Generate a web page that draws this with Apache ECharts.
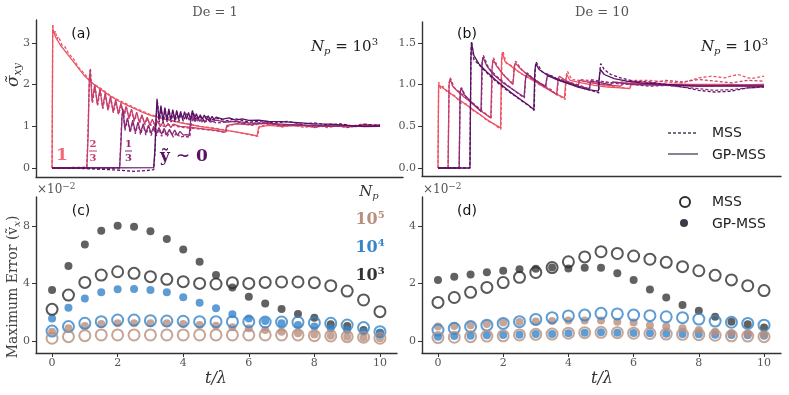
<!DOCTYPE html>
<html>
<head>
<meta charset="utf-8">
<script src="https://cdn.jsdelivr.net/npm/echarts@6/dist/echarts.min.js"></script>
<style>
  html, body { margin: 0; background: #fff; }
  #chart { width: 789px; height: 395px; }
</style>
</head>
<body>
<div id="chart"></div>
<script>
// ---------- (a) De = 1, stress at ỹ = 1, 2/3, 1/3, 0 ----------
const aGp1 = [[0,0],[0.02,3.35],[0.1,3.15],[0.25,2.95],[0.5,2.7],[0.75,2.45],[1.0,2.2],[1.25,2.02],[1.5,1.88],[1.75,1.74],[2.0,1.62],[2.25,1.52],[2.5,1.43],[2.75,1.34],[3.0,1.26],[3.5,1.16],[4.0,1.07],[4.5,1.0],[5.0,0.94],[5.5,0.88],[6.0,0.81],[6.25,0.77],[6.3,0.98],[6.6,1.02],[7.0,1.0],[7.5,1.02],[8.0,0.99],[8.5,1.01],[9.0,1.0],[9.5,1.02],[10.0,1.02]]
const aMss1 = [[0,0],[0.02,3.45],[0.06,3.2],[0.1,3.28],[0.15,3.1],[0.2,3.15],[0.3,2.95],[0.4,2.9],[0.5,2.75],[0.65,2.62],[0.8,2.42],[1.0,2.25],[1.2,2.05],[1.5,1.9],[1.8,1.72],[2.0,1.64],[2.5,1.45],[3.0,1.28],[3.5,1.17],[4.0,1.08],[4.5,1.0],[5.0,0.95],[5.5,0.88],[6.0,0.8],[6.27,0.76],[6.32,1.0],[6.6,1.05],[7.0,0.98],[7.3,1.04],[7.7,0.97],[8.0,1.03],[8.4,0.97],[8.8,1.04],[9.2,0.98],[9.6,1.05],[10.0,1.0]]
const aGp2 = [[0,0],[1.06,0],[1.1,0.8],[1.13,2.0],[1.16,2.35],[1.22,1.6],[1.3,2.0],[1.38,1.52],[1.46,1.9],[1.54,1.45],[1.62,1.8],[1.7,1.4],[1.78,1.72],[1.86,1.35],[1.94,1.64],[2.02,1.3],[2.1,1.56],[2.18,1.25],[2.26,1.48],[2.34,1.2],[2.42,1.41],[2.5,1.14],[2.58,1.34],[2.66,1.1],[2.74,1.28],[2.82,1.06],[2.9,1.22],[2.98,1.03],[3.06,1.17],[3.14,1.0],[3.22,1.13],[3.3,0.99],[3.38,1.1],[3.46,0.98],[3.54,1.07],[3.62,0.97],[3.7,1.05],[3.9,1.0],[4.2,0.98],[4.6,0.94],[5.0,0.9],[5.28,0.86],[5.33,1.02],[5.6,1.06],[6.0,1.04],[6.5,1.07],[7.0,1.03],[7.5,1.01],[8.0,1.03],[8.5,0.99],[9.0,1.02],[9.5,1.0],[10.0,1.04]]
const aMss2 = [[0,0],[1.06,0.02],[1.1,1.0],[1.14,2.2],[1.17,2.4],[1.23,1.55],[1.31,1.95],[1.39,1.5],[1.47,1.88],[1.55,1.42],[1.63,1.78],[1.71,1.38],[1.79,1.7],[1.87,1.32],[1.95,1.6],[2.03,1.28],[2.11,1.52],[2.19,1.22],[2.27,1.45],[2.35,1.18],[2.43,1.38],[2.51,1.12],[2.59,1.3],[2.67,1.08],[2.75,1.25],[2.83,1.04],[2.91,1.19],[3.0,1.02],[3.2,1.1],[3.4,1.0],[3.6,1.04],[3.9,0.98],[4.3,0.95],[4.7,0.92],[5.0,0.89],[5.3,0.85],[5.35,1.0],[5.7,1.08],[6.1,1.02],[6.6,1.1],[7.0,1.0],[7.5,1.05],[8.0,0.97],[8.5,1.05],[9.0,0.98],[9.5,1.06],[10.0,1.0]]
const aGp3 = [[0,0],[2.06,0.01],[2.1,0.6],[2.13,1.2],[2.16,1.42],[2.22,0.95],[2.3,1.2],[2.38,0.88],[2.46,1.15],[2.54,0.86],[2.62,1.1],[2.7,0.85],[2.78,1.06],[2.86,0.84],[2.94,1.03],[3.02,0.83],[3.1,1.0],[3.18,0.82],[3.26,0.97],[3.34,0.81],[3.42,0.95],[3.5,0.8],[3.58,0.93],[3.66,0.79],[3.74,0.91],[3.82,0.78],[3.9,0.88],[4.0,0.79],[4.1,0.8],[4.18,0.78],[4.22,1.1],[4.26,1.25],[4.34,1.12],[4.42,1.22],[4.5,1.12],[4.58,1.2],[4.66,1.11],[4.74,1.18],[4.82,1.1],[5.0,1.15],[5.3,1.1],[5.6,1.12],[6.0,1.08],[6.5,1.07],[7.0,1.05],[7.5,1.03],[8.0,1.02],[8.5,1.0],[9.0,1.02],[9.5,0.99],[10.0,1.0]]
const aMss3 = [[0,0],[1.5,-0.02],[2.06,0.0],[2.1,0.7],[2.13,1.25],[2.16,1.38],[2.22,0.9],[2.3,1.15],[2.38,0.85],[2.46,1.1],[2.54,0.82],[2.62,1.06],[2.7,0.8],[2.78,1.02],[2.86,0.79],[2.94,0.99],[3.02,0.78],[3.1,0.96],[3.18,0.77],[3.26,0.93],[3.34,0.76],[3.42,0.9],[3.5,0.75],[3.6,0.88],[3.7,0.74],[3.8,0.85],[3.9,0.74],[4.05,0.76],[4.2,0.74],[4.24,1.05],[4.3,1.2],[4.4,1.1],[4.5,1.18],[4.6,1.08],[4.8,1.15],[5.0,1.08],[5.5,1.12],[6.0,1.05],[6.5,1.1],[7.0,1.02],[7.5,1.05],[8.0,0.98],[8.5,1.03],[9.0,0.97],[9.5,1.04],[10.0,1.0]]
const aGp4 = [[0,0],[3.1,0.01],[3.14,0.5],[3.17,1.2],[3.2,1.66],[3.26,1.15],[3.32,1.5],[3.38,1.12],[3.44,1.45],[3.5,1.15],[3.56,1.42],[3.62,1.15],[3.68,1.4],[3.74,1.15],[3.8,1.38],[3.86,1.16],[3.92,1.36],[3.98,1.16],[4.04,1.35],[4.1,1.17],[4.16,1.33],[4.22,1.17],[4.28,1.38],[4.34,1.18],[4.4,1.3],[4.46,1.17],[4.52,1.28],[4.58,1.17],[4.64,1.27],[4.7,1.17],[4.76,1.25],[4.82,1.16],[4.88,1.24],[4.94,1.16],[5.0,1.22],[5.2,1.17],[5.4,1.2],[5.6,1.15],[5.8,1.18],[6.0,1.14],[6.3,1.15],[6.6,1.12],[7.0,1.11],[7.5,1.09],[8.0,1.06],[8.5,1.05],[9.0,1.02],[9.5,1.0],[10.0,1.0]]
const aMss4 = [[0,0],[1.0,-0.01],[2.0,-0.05],[2.5,-0.08],[2.9,-0.06],[3.1,-0.04],[3.14,0.4],[3.18,1.3],[3.21,1.6],[3.27,1.1],[3.33,1.45],[3.39,1.08],[3.45,1.4],[3.51,1.1],[3.57,1.38],[3.63,1.1],[3.69,1.35],[3.75,1.1],[3.81,1.33],[3.87,1.12],[3.93,1.31],[4.0,1.12],[4.1,1.3],[4.2,1.12],[4.3,1.34],[4.4,1.13],[4.5,1.26],[4.6,1.12],[4.7,1.24],[4.8,1.13],[5.0,1.2],[5.3,1.13],[5.6,1.18],[6.0,1.1],[6.4,1.13],[6.8,1.08],[7.2,1.12],[7.6,1.05],[8.0,1.08],[8.4,1.03],[8.8,1.06],[9.2,1.0],[9.6,1.04],[10.0,1.02]]

// ---------- (b) De = 10 ----------
const bGp1 = [[0,0],[0.02,1.0],[0.1,0.97],[0.3,0.92],[0.5,0.86],[0.75,0.79],[1.0,0.72],[1.25,0.65],[1.5,0.58],[1.75,0.52],[1.92,0.48],[1.95,1.3],[1.98,1.38],[2.05,1.28],[2.3,1.2],[2.6,1.12],[3.0,1.03],[3.3,0.96],[3.6,0.89],[3.88,0.84],[3.92,1.05],[3.95,1.12],[4.05,1.05],[4.4,1.02],[4.8,0.99],[5.2,0.97],[5.6,0.96],[5.88,0.95],[5.92,1.02],[6.3,1.01],[7.0,1.0],[8.0,1.0],[9.0,1.0],[10.0,0.99]]
const bMss1 = [[0,0],[0.02,1.03],[0.08,0.95],[0.15,0.98],[0.3,0.9],[0.5,0.87],[0.7,0.78],[0.9,0.76],[1.1,0.68],[1.3,0.64],[1.5,0.57],[1.7,0.53],[1.93,0.46],[1.96,1.35],[1.99,1.4],[2.1,1.25],[2.3,1.22],[2.5,1.14],[2.8,1.08],[3.1,1.0],[3.4,0.94],[3.7,0.87],[3.9,0.82],[3.93,1.1],[3.97,1.16],[4.1,1.06],[4.5,1.04],[5.0,1.0],[5.5,0.97],[5.9,0.95],[5.94,1.05],[6.5,1.05],[7.0,1.03],[7.5,1.02],[8.0,1.08],[8.4,1.1],[8.8,1.08],[9.2,1.12],[9.6,1.07],[10.0,1.1]]
const bGp2 = [[0,0],[0.31,0],[0.34,1.0],[0.37,1.07],[0.45,0.98],[0.6,0.92],[0.8,0.85],[1.0,0.79],[1.2,0.72],[1.4,0.66],[1.62,0.6],[1.66,1.2],[1.69,1.3],[1.8,1.22],[2.0,1.12],[2.2,1.04],[2.3,1.0],[2.34,1.2],[2.37,1.26],[2.5,1.2],[2.8,1.1],[3.1,1.02],[3.4,0.94],[3.64,0.88],[3.68,1.05],[3.72,1.1],[3.9,1.05],[4.3,0.98],[4.34,1.05],[4.6,1.03],[5.0,1.0],[5.6,0.98],[5.7,1.02],[6.5,1.0],[7.5,1.0],[8.5,0.99],[10.0,1.0]]
const bMss2 = [[0,0],[0.31,0],[0.34,1.02],[0.38,1.08],[0.5,0.96],[0.7,0.9],[0.9,0.82],[1.1,0.77],[1.3,0.7],[1.5,0.64],[1.63,0.59],[1.67,1.22],[1.7,1.32],[1.85,1.2],[2.05,1.1],[2.3,1.01],[2.34,1.22],[2.38,1.28],[2.6,1.16],[2.9,1.08],[3.2,1.0],[3.5,0.93],[3.65,0.87],[3.69,1.07],[3.9,1.04],[4.3,0.99],[4.35,1.06],[4.8,1.04],[5.3,1.02],[6.0,1.04],[6.5,1.02],[7.0,1.05],[7.5,1.03],[8.0,1.06],[8.5,1.04],[9.0,1.02],[9.5,1.05],[10.0,1.04]]
const bGp3 = [[0,0],[0.65,0],[0.68,0.9],[0.71,0.96],[0.8,0.88],[1.0,0.8],[1.15,0.74],[1.32,0.68],[1.35,1.25],[1.38,1.33],[1.5,1.22],[1.7,1.12],[2.0,1.02],[2.3,0.94],[2.64,0.85],[2.68,1.05],[2.72,1.13],[2.9,1.07],[3.1,1.02],[3.3,0.98],[3.34,1.08],[3.38,1.12],[3.6,1.07],[4.0,1.02],[4.3,0.98],[4.64,0.95],[4.68,1.04],[5.0,1.02],[5.3,1.0],[5.36,1.03],[6.0,1.0],[7.0,0.99],[8.0,0.98],[9.0,0.99],[10.0,0.98]]
const bMss3 = [[0,0],[0.65,0],[0.68,0.92],[0.72,0.96],[0.85,0.86],[1.05,0.78],[1.2,0.73],[1.33,0.67],[1.36,1.28],[1.39,1.35],[1.55,1.2],[1.8,1.1],[2.1,1.0],[2.4,0.91],[2.65,0.84],[2.69,1.08],[2.73,1.14],[2.95,1.06],[3.3,0.97],[3.35,1.1],[3.6,1.08],[4.0,1.03],[4.35,0.99],[4.65,0.94],[4.69,1.06],[5.0,1.04],[5.5,1.01],[6.0,1.0],[6.5,0.98],[7.0,0.99],[7.5,0.97],[8.0,0.95],[8.5,0.93],[9.0,0.94],[9.5,0.96],[10.0,0.97]]
const bGp4 = [[0,0],[0.98,0],[1.01,1.3],[1.03,1.5],[1.1,1.35],[1.25,1.25],[1.5,1.15],[1.75,1.06],[2.0,0.98],[2.25,0.9],[2.5,0.83],[2.75,0.76],[2.94,0.7],[2.97,1.15],[3.0,1.25],[3.1,1.18],[3.4,1.1],[3.7,1.05],[4.0,1.01],[4.3,0.97],[4.6,0.94],[4.92,0.92],[4.95,1.1],[4.98,1.18],[5.1,1.12],[5.4,1.07],[5.8,1.04],[6.2,1.02],[7.0,1.0],[8.0,0.98],[9.0,0.98],[10.0,0.98]]
const bMss4 = [[0,0],[0.98,0],[1.01,1.35],[1.03,1.52],[1.1,1.3],[1.3,1.22],[1.55,1.12],[1.8,1.03],[2.05,0.95],[2.3,0.88],[2.55,0.81],[2.8,0.74],[2.95,0.69],[2.98,1.2],[3.01,1.27],[3.2,1.15],[3.5,1.1],[3.8,1.04],[4.1,1.0],[4.4,0.96],[4.7,0.93],[4.93,0.9],[4.96,1.15],[4.99,1.25],[5.1,1.18],[5.3,1.12],[5.6,1.08],[6.0,1.04],[6.5,1.03],[7.0,1.0],[7.5,0.97],[8.0,0.93],[8.5,0.91],[9.0,0.92],[9.5,0.96],[10.0,0.97]]

// ---------- (c), (d) maximum error (x 1e-2) ----------
const tVals = [0,0.5,1,1.5,2,2.5,3,3.5,4,4.5,5,5.5,6,6.5,7,7.5,8,8.5,9,9.5,10]
const cGp3 = [3.54,5.2,6.7,7.65,8.0,7.93,7.63,7.08,6.36,5.5,4.58,3.72,3.08,2.61,2.22,1.87,1.62,1.16,1.04,0.76,0.58]
const cMss3 = [2.2,3.19,4.07,4.58,4.81,4.7,4.47,4.28,4.12,4.0,3.96,4.05,4.0,4.07,4.1,4.1,4.05,3.84,3.47,2.85,2.04]
const cGp4 = [1.57,2.31,2.96,3.38,3.59,3.61,3.54,3.38,3.03,2.66,2.27,1.85,1.57,1.39,1.23,1.11,1.0,0.88,0.76,0.65,0.58]
const cMss4 = [0.69,1.0,1.23,1.34,1.46,1.46,1.41,1.39,1.37,1.34,1.34,1.34,1.34,1.32,1.32,1.3,1.27,1.23,1.11,0.93,0.65]
const cGp5 = [0.65,0.88,1.04,1.18,1.23,1.23,1.23,1.23,1.18,1.11,1.06,0.95,0.88,0.76,0.65,0.53,0.46,0.37,0.3,0.23,0.19]
const cMss5 = [0.19,0.3,0.37,0.42,0.42,0.42,0.42,0.42,0.42,0.42,0.42,0.42,0.42,0.42,0.42,0.42,0.37,0.35,0.3,0.26,0.19]

const dGp3 = [2.12,2.23,2.31,2.39,2.44,2.49,2.51,2.55,2.52,2.54,2.54,2.35,2.12,1.79,1.51,1.25,1.05,0.84,0.67,0.58,0.47]
const dMss3 = [1.34,1.51,1.69,1.86,2.03,2.21,2.38,2.55,2.75,2.92,3.1,3.04,2.95,2.84,2.73,2.58,2.44,2.28,2.12,1.92,1.75]
const dGp4 = [0.15,0.17,0.18,0.2,0.21,0.22,0.24,0.24,0.27,0.29,0.3,0.29,0.28,0.27,0.25,0.24,0.23,0.22,0.21,0.2,0.18]
const dMss4 = [0.38,0.44,0.5,0.55,0.61,0.67,0.75,0.81,0.87,0.9,0.96,0.94,0.9,0.88,0.84,0.81,0.76,0.69,0.65,0.61,0.55]
const dGp5 = [0.5,0.52,0.55,0.59,0.64,0.66,0.68,0.69,0.71,0.71,0.71,0.67,0.64,0.55,0.5,0.44,0.38,0.32,0.27,0.24,0.21]
const dMss5 = [0.12,0.13,0.15,0.17,0.18,0.21,0.23,0.24,0.27,0.29,0.3,0.29,0.27,0.26,0.24,0.23,0.22,0.2,0.18,0.17,0.15]

// 颜色
const col1 = '#ee5464', col23 = '#c63f6d', col13 = '#8d2b78', col0 = '#5b1163'
const dark = '#3a3a3a', blue = '#3685c9', brown = '#b88f7d'
const serif = 'DejaVu Serif'

const myChart = echarts.init(document.getElementById('chart'))

function xAx(grid, min, max, ticks) {
  return {
    type: 'value', gridIndex: grid, min, max,
    splitLine: { show: false },
    axisLine: { show: true, onZero: false, lineStyle: { color: '#333', width: 1.4 } },
    axisTick: { show: !!ticks, length: 4, customValues: ticks, lineStyle: { color: '#333' } },
    axisLabel: { show: !!ticks, customValues: ticks, fontFamily: serif, fontSize: 11, color: '#555', margin: 5 }
  }
}
function yAx(grid, min, max, ticks, fmt) {
  return {
    type: 'value', gridIndex: grid, min, max,
    splitLine: { show: false },
    axisLine: { show: true, onZero: false, lineStyle: { color: '#333', width: 1.4 } },
    axisTick: { show: true, length: 4, customValues: ticks, lineStyle: { color: '#333' } },
    axisLabel: { customValues: ticks, fontFamily: serif, fontSize: 11, color: '#555', margin: 6, formatter: fmt }
  }
}
function line(idx, data, color, dashed) {
  return {
    type: 'line', xAxisIndex: idx, yAxisIndex: idx, data, symbol: 'none',
    lineStyle: { color, width: 1.3, type: dashed ? [3, 2] : 'solid' }
  }
}
function dots(idx, vals, color) {
  return {
    type: 'scatter', xAxisIndex: idx, yAxisIndex: idx, symbolSize: 8,
    data: tVals.map((t, i) => [t, vals[i]]), itemStyle: { color }
  }
}
function rings(idx, vals, color) {
  return {
    type: 'scatter', xAxisIndex: idx, yAxisIndex: idx, symbolSize: 11,
    data: tVals.map((t, i) => [t, vals[i]]),
    itemStyle: { color: 'rgba(0,0,0,0)', borderColor: color, borderWidth: 2 }
  }
}
function txt(x, y, text, font, fill, align, extra) {
  return Object.assign({
    type: 'text', x, y, silent: true,
    style: { text, font, fill, align: align || 'center', verticalAlign: 'middle' }
  }, extra || {})
}

const option = {
  animation: false,
  grid: [
    { left: 36, top: 20, width: 367, height: 157 },
    { left: 422, top: 22, width: 359, height: 154 },
    { left: 36, top: 197, width: 361, height: 156 },
    { left: 422, top: 197, width: 359, height: 156 }
  ],
  xAxis: [
    xAx(0, -0.49, 10.7, null),
    xAx(1, -0.49, 10.52, null),
    xAx(2, -0.49, 10.52, [0, 2, 4, 6, 8, 10]),
    xAx(3, -0.49, 10.52, [0, 2, 4, 6, 8, 10])
  ],
  yAxis: [
    yAx(0, -0.216, 3.55, [0, 1, 2, 3]),
    yAx(1, -0.096, 1.749, [0, 0.5, 1, 1.5], v => v.toFixed(1)),
    yAx(2, -0.833, 10.0, [0, 4, 8]),
    yAx(3, -0.417, 5.0, [0, 2, 4])
  ],
  series: [
    line(0, aMss1, col1, true), line(0, aGp1, col1),
    line(0, aMss2, col23, true), line(0, aGp2, col23),
    line(0, aMss3, col13, true), line(0, aGp3, col13),
    line(0, aMss4, col0, true), line(0, aGp4, col0),
    line(1, bMss1, col1, true), line(1, bGp1, col1),
    line(1, bMss2, col23, true), line(1, bGp2, col23),
    line(1, bMss3, col13, true), line(1, bGp3, col13),
    line(1, bMss4, col0, true), line(1, bGp4, col0),
    dots(2, cGp3, dark), dots(2, cGp4, blue), dots(2, cGp5, brown),
    rings(2, cMss3, '#2e2e2e'), rings(2, cMss4, blue), rings(2, cMss5, brown),
    dots(3, dGp3, dark), dots(3, dGp4, blue), dots(3, dGp5, brown),
    rings(3, dMss3, '#2e2e2e'), rings(3, dMss4, blue), rings(3, dMss5, brown)
  ],
  graphic: [
    txt(215, 13, 'De = 1', '13px ' + serif, '#555'),
    txt(602, 13, 'De = 10', '13px ' + serif, '#555'),
    txt(81, 34, '(a)', '14px DejaVu Sans', '#111'),
    txt(467, 34, '(b)', '14px DejaVu Sans', '#111'),
    txt(81, 211, '(c)', '14px DejaVu Sans', '#111'),
    txt(467, 211, '(d)', '14px DejaVu Sans', '#111'),
    // N_p = 10^3
    {
      type: 'text', x: 378, y: 47, silent: true,
      style: {
        text: '{i|N}{s|p}{n| = 10}{u|3}', align: 'right', verticalAlign: 'middle', fill: '#222',
        rich: {
          i: { font: 'italic 15px ' + serif, fill: '#222' },
          s: { font: 'italic 10px ' + serif, fill: '#222', padding: [8, 0, 0, 0] },
          n: { font: '15px ' + serif, fill: '#222' },
          u: { font: '10px ' + serif, fill: '#222', padding: [0, 0, 9, 0] }
        }
      }
    },
    {
      type: 'text', x: 768, y: 47, silent: true,
      style: {
        text: '{i|N}{s|p}{n| = 10}{u|3}', align: 'right', verticalAlign: 'middle', fill: '#222',
        rich: {
          i: { font: 'italic 15px ' + serif, fill: '#222' },
          s: { font: 'italic 10px ' + serif, fill: '#222', padding: [8, 0, 0, 0] },
          n: { font: '15px ' + serif, fill: '#222' },
          u: { font: '10px ' + serif, fill: '#222', padding: [0, 0, 9, 0] }
        }
      }
    },
    // y labels
    {
      type: 'text', x: 14, y: 75, rotation: Math.PI / 2, silent: true,
      style: {
        text: '{a|σ̃}{b|xy}', align: 'center', verticalAlign: 'middle',
        rich: {
          a: { font: 'italic 17px ' + serif, fill: '#333' },
          b: { font: 'italic 11px ' + serif, fill: '#333', padding: [9, 0, 0, 0] }
        }
      }
    },
    {
      type: 'text', x: 13, y: 287, rotation: Math.PI / 2, silent: true,
      style: {
        text: '{a|Maximum Error (ṽ}{b|x}{a|)}', align: 'center', verticalAlign: 'middle',
        rich: {
          a: { font: '14px ' + serif, fill: '#444' },
          b: { font: 'italic 10px ' + serif, fill: '#444', padding: [8, 0, 0, 0] }
        }
      }
    },
    txt(216, 379, 't/λ', 'italic 16px ' + serif, '#333'),
    txt(602, 379, 't/λ', 'italic 16px ' + serif, '#333'),
    // x10^-2
    {
      type: 'text', x: 37, y: 190, silent: true,
      style: {
        text: '{a|×10}{b|−2}', align: 'left', verticalAlign: 'middle',
        rich: { a: { font: '12px ' + serif, fill: '#555' }, b: { font: '9px ' + serif, fill: '#555', padding: [0, 0, 7, 0] } }
      }
    },
    {
      type: 'text', x: 423, y: 190, silent: true,
      style: {
        text: '{a|×10}{b|−2}', align: 'left', verticalAlign: 'middle',
        rich: { a: { font: '12px ' + serif, fill: '#555' }, b: { font: '9px ' + serif, fill: '#555', padding: [0, 0, 7, 0] } }
      }
    },
    // N_p legend in (c)
    {
      type: 'text', x: 369, y: 192, silent: true,
      style: {
        text: '{i|N}{s|p}', align: 'center', verticalAlign: 'middle',
        rich: { i: { font: 'italic 15px ' + serif, fill: '#333' }, s: { font: 'italic 10px ' + serif, fill: '#333', padding: [8, 0, 0, 0] } }
      }
    },
    {
      type: 'text', x: 370, y: 220, silent: true,
      style: { text: '{a|10}{b|5}', align: 'center', verticalAlign: 'middle',
        rich: { a: { font: 'bold 16px ' + serif, fill: brown }, b: { font: 'bold 10px ' + serif, fill: brown, padding: [0, 0, 9, 0] } } }
    },
    {
      type: 'text', x: 370, y: 248, silent: true,
      style: { text: '{a|10}{b|4}', align: 'center', verticalAlign: 'middle',
        rich: { a: { font: 'bold 16px ' + serif, fill: blue }, b: { font: 'bold 10px ' + serif, fill: blue, padding: [0, 0, 9, 0] } } }
    },
    {
      type: 'text', x: 370, y: 276, silent: true,
      style: { text: '{a|10}{b|3}', align: 'center', verticalAlign: 'middle',
        rich: { a: { font: 'bold 16px ' + serif, fill: '#333' }, b: { font: 'bold 10px ' + serif, fill: '#333', padding: [0, 0, 9, 0] } } }
    },
    // (a) curve labels
    txt(62, 156, '1', 'bold 17px ' + serif, '#f06a78'),
    txt(93, 144, '2', 'bold 10px ' + serif, col23),
    { type: 'line', silent: true, shape: { x1: 89, y1: 151, x2: 97, y2: 151 }, style: { stroke: col23, lineWidth: 1 } },
    txt(93, 158, '3', 'bold 10px ' + serif, col23),
    txt(128.5, 144, '1', 'bold 10px ' + serif, col13),
    { type: 'line', silent: true, shape: { x1: 125, y1: 151, x2: 132, y2: 151 }, style: { stroke: col13, lineWidth: 1 } },
    txt(128.5, 158, '3', 'bold 10px ' + serif, col13),
    txt(160, 157, 'ỹ ∼ 0', 'bold 17px ' + serif, col0, 'left'),
    // legend (b)
    { type: 'line', silent: true, shape: { x1: 668, y1: 133, x2: 698, y2: 133 }, style: { stroke: '#4b3d5e', lineWidth: 1.3, lineDash: [3, 2] } },
    { type: 'line', silent: true, shape: { x1: 668, y1: 154, x2: 698, y2: 154 }, style: { stroke: '#4b3d5e', lineWidth: 1.3 } },
    txt(712, 133, 'MSS', '14px DejaVu Sans', '#222', 'left'),
    txt(712, 155, 'GP-MSS', '14px DejaVu Sans', '#222', 'left'),
    // legend (d)
    { type: 'circle', silent: true, shape: { cx: 685, cy: 202, r: 5 }, style: { fill: 'none', stroke: '#2e2e2e', lineWidth: 2 } },
    { type: 'circle', silent: true, shape: { cx: 684, cy: 223, r: 4 }, style: { fill: '#3a3a48' } },
    txt(712, 202, 'MSS', '14px DejaVu Sans', '#222', 'left'),
    txt(712, 224, 'GP-MSS', '14px DejaVu Sans', '#222', 'left')
  ]
}
myChart.setOption(option)
</script>
</body>
</html>
